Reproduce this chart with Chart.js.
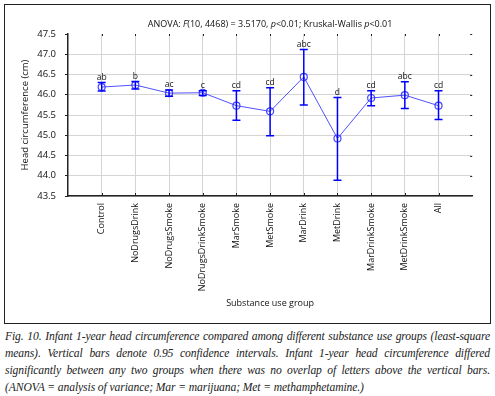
<!DOCTYPE html>
<html>
<head>
<meta charset="utf-8">
<script src="https://cdn.jsdelivr.net/npm/chart.js@4"></script>
<style>
  body { margin: 0; background: #fff; }
  #box { position: absolute; left: 4px; top: 4px; width: 485px; height: 318px; border: 1px solid #222; }
  #caption { position: absolute; left: 5px; top: 328px; width: 485px; font-family: "Liberation Serif", serif;
    font-style: italic; font-size: 11.6px; letter-spacing: -0.1px; line-height: 17px; color: #222; }
  #caption div { text-align: justify; text-align-last: justify; white-space: nowrap; }
  #caption div.last { text-align-last: left; }
</style>
</head>
<body>
<div id="box"><canvas id="chart" width="485" height="318"></canvas></div>
<div id="caption">
  <div>Fig. 10. Infant 1-year head circumference compared among different substance use groups (least-square</div>
  <div>means). Vertical bars denote 0.95 confidence intervals. Infant 1-year head circumference differed</div>
  <div>significantly between any two groups when there was no overlap of letters above the vertical bars.</div>
  <div class="last">(ANOVA = analysis of variance; Mar = marijuana; Met = methamphetamine.)</div>
</div>
<script>
// groups on the x axis
const groups = ['Control', 'NoDrugsDrink', 'NoDrugsSmoke', 'NoDrugsDrinkSmoke', 'MarSmoke', 'MetSmoke',
  'MarDrink', 'MetDrink', 'MarDrinkSmoke', 'MetDrinkSmoke', 'All'];
// least-square means and 0.95 CI
const means = [46.19, 46.24, 46.04, 46.05, 45.73, 45.59, 46.44, 44.92, 45.92, 45.99, 45.73];
const lower = [46.09, 46.14, 45.96, 45.98, 45.37, 44.99, 45.75, 43.89, 45.73, 45.66, 45.39];
const upper = [46.30, 46.33, 46.12, 46.10, 46.10, 46.17, 47.12, 45.93, 46.10, 46.32, 46.10];
const letters = ['ab', 'b', 'ac', 'c', 'cd', 'cd', 'abc', 'd', 'cd', 'abc', 'cd'];
const yMin = 43.5, yMax = 47.5, yStep = 0.5;

const labels = [''].concat(groups, ['']);
const FONT = '"Open Sans", sans-serif';
const TEXT = '#111';

const extras = {
  id: 'extras',
  afterDatasetsDraw(chart) {
    const ctx = chart.ctx;
    const x = chart.scales.x, y = chart.scales.y;
    const area = chart.chartArea;
    ctx.save();
    // error bars
    ctx.strokeStyle = '#0000ff';
    ctx.lineWidth = 1.5;
    groups.forEach((g, i) => {
      const px = x.getPixelForValue(i + 1);
      const t = y.getPixelForValue(upper[i]);
      const b = y.getPixelForValue(lower[i]);
      ctx.beginPath();
      ctx.moveTo(px, t); ctx.lineTo(px, b);
      ctx.moveTo(px - 4, t); ctx.lineTo(px + 4, t);
      ctx.moveTo(px - 4, b); ctx.lineTo(px + 4, b);
      ctx.stroke();
    });
    // group letters
    ctx.fillStyle = TEXT;
    ctx.font = '8.5px ' + FONT;
    ctx.textAlign = 'center';
    ctx.textBaseline = 'bottom';
    groups.forEach((g, i) => {
      ctx.fillText(letters[i], x.getPixelForValue(i + 1), y.getPixelForValue(upper[i]) - 1);
    });
    // mirrored ticks top / right and inner ticks at bottom
    ctx.strokeStyle = '#222';
    ctx.lineWidth = 1;
    ctx.beginPath();
    groups.forEach((g, i) => {
      const px = Math.round(x.getPixelForValue(i + 1)) + 0.5;
      ctx.moveTo(px, area.top); ctx.lineTo(px, area.top + 2);
      ctx.moveTo(px, area.bottom); ctx.lineTo(px, area.bottom - 3);
    });
    for (let v = yMin + yStep; v <= yMax + 1e-9; v += yStep) {
      const py = Math.round(y.getPixelForValue(v)) + 0.5;
      ctx.moveTo(area.right, py); ctx.lineTo(area.right - 2, py);
    }
    ctx.stroke();
    // title with italic parts
    const parts = [['ANOVA: ', ''], ['F', 'italic '], ['(10, 4468) = 3.5170, ', ''], ['p', 'italic '],
      ['<0.01; Kruskal-Wallis ', ''], ['p', 'italic '], ['<0.01', '']];
    let w = 0;
    parts.forEach(p => { ctx.font = p[1] + '9px ' + FONT; w += ctx.measureText(p[0]).width; });
    let cx = (area.left + area.right) / 2 - w / 2;
    ctx.textAlign = 'left';
    ctx.textBaseline = 'middle';
    parts.forEach(p => {
      ctx.font = p[1] + '9px ' + FONT;
      ctx.fillText(p[0], cx, 19);
      cx += ctx.measureText(p[0]).width;
    });
    ctx.restore();
  }
};

new Chart(document.getElementById('chart'), {
  type: 'line',
  data: {
    labels: labels,
    datasets: [{
      data: groups.map((g, i) => ({ x: g, y: means[i] })),
      borderColor: 'rgba(50,50,255,0.85)',
      borderWidth: 1,
      pointRadius: 3.5,
      pointBorderWidth: 1.2,
      pointBackgroundColor: 'rgba(0,0,0,0)',
      pointBorderColor: 'rgba(50,50,255,0.9)'
    }]
  },
  options: {
    responsive: false,
    animation: false,
    layout: { padding: { top: 29, right: 17, left: 0, bottom: 0 } },
    plugins: { legend: { display: false }, tooltip: { enabled: false } },
    scales: {
      x: {
        type: 'category',
        offset: false,
        afterFit: s => { s.height = 127; },
        grid: {
          color: c => (c.index === 0 || c.index === labels.length - 1) ? 'rgba(0,0,0,0)' : '#d4d4d4',
          drawTicks: false
        },
        border: { color: '#222', width: 1.5 },
        ticks: { minRotation: 90, maxRotation: 90, autoSkip: false, padding: 7, color: TEXT,
          font: { family: FONT, size: 9 } },
        title: { display: true, text: 'Substance use group', color: TEXT, padding: { top: 0, bottom: 14 },
          font: { family: FONT, size: 9 } }
      },
      y: {
        min: yMin, max: yMax,
        afterFit: s => { s.width = 63; },
        grid: {
          color: c => (c.tick && c.tick.value === yMax) ? 'rgba(0,0,0,0)' : '#d4d4d4',
          tickColor: '#222', tickLength: 3
        },
        border: { color: '#222', width: 1.5 },
        ticks: { stepSize: yStep, padding: 9, color: TEXT, font: { family: FONT, size: 9.5 },
          callback: v => v.toFixed(1) },
        title: { display: true, text: 'Head circumference (cm)', color: TEXT, padding: { top: 15, bottom: 0 },
          font: { family: FONT, size: 9.5 } }
      }
    }
  },
  plugins: [extras]
});
</script>
</body>
</html>
